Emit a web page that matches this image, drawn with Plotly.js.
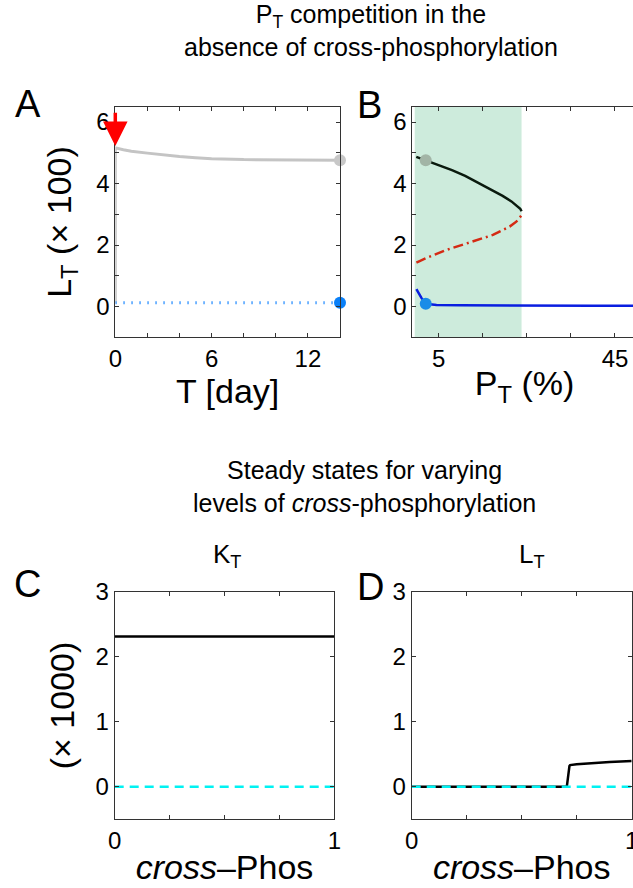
<!DOCTYPE html>
<html>
<head>
<meta charset="utf-8">
<script src="https://cdn.plot.ly/plotly-3.0.1.min.js"></script>
<style>
  html, body { margin: 0; padding: 0; background: #fff; overflow: hidden; }
  #chart { width: 700px; height: 888px; }
</style>
</head>
<body>
<div id="chart"></div>
<script>
// ---------- Panel A: time course (T in days, L_T x100) ----------
const tA_gray = [0, 0, 0.5, 1, 2, 3, 4, 5, 6, 8, 10, 12, 14];
const lA_gray = [0.1, 5.16, 5.1, 5.05, 4.99, 4.93, 4.88, 4.84, 4.81, 4.78, 4.77, 4.76, 4.76];
const tA_blue = [0, 14];
const lA_blue = [0.12, 0.12];
const tA_end = [14];
const lA_grayEnd = [4.76];
const lA_blueEnd = [0.12];
const arrowA = { t: 0, from: 6.35, to: 5.22 };

// ---------- Panel B: bifurcation vs P_T (%) ----------
const pB_high = [-0.1, 2.05, 5, 8, 11, 14.3, 17, 19.5, 21.5, 22.8, 23.5, 23.8];
const lB_high = [4.87, 4.76, 4.6, 4.44, 4.25, 4.0, 3.8, 3.6, 3.42, 3.28, 3.18, 3.1];
const pB_unstable = [-0.07, 2.05, 6.7, 12.8, 17.3, 21.1, 22.6, 23.75];
const lB_unstable = [1.43, 1.57, 1.84, 2.11, 2.33, 2.6, 2.76, 2.96];
const pB_low = [-0.07, 1.07, 2.05, 4.5, 10, 20, 30, 40, 50];
const lB_low = [0.57, 0.28, 0.09, 0.05, 0.04, 0.03, 0.03, 0.03, 0.03];
const pB_dot = [2.05];
const lB_grayDot = [4.76];
const lB_blueDot = [0.09];
const bistableB = [-0.45, 23.8];

// ---------- Panels C, D: steady states vs cross-phosphorylation ----------
const xC = [0, 1];
const kC_black = [2.31, 2.31];
const kC_cyan = [0, 0];
const xD = [0, 0.705, 0.717, 0.72, 0.75, 0.8, 0.85, 0.9, 0.95, 1.0];
const lD_black = [0.0, 0.0, 0.32, 0.333, 0.345, 0.36, 0.37, 0.38, 0.39, 0.395];
const xD_cyan = [0, 1];
const lD_cyan = [0, 0];

// tick labels (major) and unlabeled minor tick spacing
const tickA_x = [0, 6, 12];
const tickAB_y = [0, 2, 4, 6];
const tickB_x = [5, 45];
const tickCD_x = [0, 1];
const tickCD_y = [0, 1, 2, 3];

// ---------- layout helpers (pixels -> paper) ----------
const W = 700, H = 888;
const px = p => p / W;
const py = p => 1 - p / H;
const FONT = 'Liberation Sans, Arial, Helvetica, sans-serif';

function axis(domain, range, tv, minor, extra) {
  return Object.assign({
    domain: domain, range: range, tickmode: 'array', tickvals: tv,
    ticktext: tv.map(String),
    ticks: 'inside', ticklen: 4, tickwidth: 1, tickcolor: '#333',
    minor: Object.assign({ ticks: 'inside', ticklen: 4, tickwidth: 1, tickcolor: '#333', showgrid: false }, minor),
    showline: true, linecolor: '#333', linewidth: 1, mirror: 'ticks',
    showgrid: false, zeroline: false, fixedrange: true,
    tickfont: { family: FONT, size: 24, color: '#000' }
  }, extra || {});
}

const traces = [
  // A
  { x: tA_gray, y: lA_gray, xaxis: 'x', yaxis: 'y', mode: 'lines',
    line: { color: '#c4c4c4', width: 3 }, cliponaxis: false },
  { x: tA_blue, y: lA_blue, xaxis: 'x', yaxis: 'y', mode: 'lines',
    line: { color: '#4aa0ff', width: 3, dash: '1.5px,6.5px' } },
  { x: tA_end, y: lA_grayEnd, xaxis: 'x', yaxis: 'y', mode: 'markers',
    marker: { color: '#c8c8c8', size: 12 }, cliponaxis: false },
  { x: tA_end, y: lA_blueEnd, xaxis: 'x', yaxis: 'y', mode: 'markers',
    marker: { color: '#0a80f8', size: 12 }, cliponaxis: false },
  // B
  { x: pB_high, y: lB_high, xaxis: 'x2', yaxis: 'y2', mode: 'lines',
    line: { color: '#0a1a0e', width: 2.5 } },
  { x: pB_unstable, y: lB_unstable, xaxis: 'x2', yaxis: 'y2', mode: 'lines',
    line: { color: '#d42a14', width: 2.5, dash: '10px,4px,2px,4px' } },
  { x: pB_low, y: lB_low, xaxis: 'x2', yaxis: 'y2', mode: 'lines',
    line: { color: '#0a1ee0', width: 2.5 } },
  { x: pB_dot, y: lB_grayDot, xaxis: 'x2', yaxis: 'y2', mode: 'markers',
    marker: { color: '#a2b4a6', size: 12 } },
  { x: pB_dot, y: lB_blueDot, xaxis: 'x2', yaxis: 'y2', mode: 'markers',
    marker: { color: '#1a8ce8', size: 12 } },
  // C
  { x: xC, y: kC_black, xaxis: 'x3', yaxis: 'y3', mode: 'lines',
    line: { color: '#000', width: 2.5 } },
  { x: xC, y: kC_cyan, xaxis: 'x3', yaxis: 'y3', mode: 'lines',
    line: { color: '#00f2f2', width: 2.5, dash: '9px,6px' } },
  // D
  { x: xD, y: lD_black, xaxis: 'x4', yaxis: 'y4', mode: 'lines',
    line: { color: '#000', width: 2.5 } },
  { x: xD_cyan, y: lD_cyan, xaxis: 'x4', yaxis: 'y4', mode: 'lines',
    line: { color: '#00f2f2', width: 2.5, dash: '9px,6px' } }
];

const titleFont = { family: FONT, size: 34, color: '#000' };
const yTop = [py(337.3), py(106.7)];
const yBot = [py(819.3), py(591.7)];

const layout = {
  width: W, height: H, showlegend: false,
  margin: { l: 0, r: 0, t: 0, b: 0 },
  paper_bgcolor: '#fff', plot_bgcolor: 'rgba(0,0,0,0)',
  font: { family: FONT, color: '#000' },
  xaxis: axis([px(115.3), px(340)], [0, 14], tickA_x, { tick0: 0, dtick: 2 },
    { anchor: 'y', title: { text: 'T [day]', font: titleFont, standoff: 0 } }),
  yaxis: axis(yTop, [-1, 6.5], tickAB_y, { tick0: 0, dtick: 1 },
    { anchor: 'x', title: { text: 'L<sub>T</sub> (× 100)', font: titleFont, standoff: 14 } }),
  xaxis2: axis([px(412.3), px(637)], [-1, 50], tickB_x, { tick0: 5, dtick: 10 },
    { anchor: 'y2', title: { text: 'P<sub>T</sub> (%)', font: titleFont, standoff: 0 } }),
  yaxis2: axis(yTop, [-1, 6.5], tickAB_y, { tick0: 0, dtick: 1 }, { anchor: 'x2' }),
  xaxis3: axis([px(114.7), px(334.3)], [0, 1], tickCD_x, { tick0: 0, dtick: 0.25 },
    { anchor: 'y3', title: { text: '<i>cross</i>–Phos', font: titleFont, standoff: 2 } }),
  yaxis3: axis(yBot, [-0.5, 3], tickCD_y, { tick0: 0, dtick: 1 },
    { anchor: 'x3', title: { text: '(× 1000)', font: titleFont, standoff: 10 } }),
  xaxis4: axis([px(411.7), px(631.7)], [0, 1], tickCD_x, { tick0: 0, dtick: 0.25 },
    { anchor: 'y4', title: { text: '<i>cross</i>–Phos', font: titleFont, standoff: 2 } }),
  yaxis4: axis(yBot, [-0.5, 3], tickCD_y, { tick0: 0, dtick: 1 }, { anchor: 'x4' }),
  shapes: [
    { type: 'rect', xref: 'x2', yref: 'y2 domain', x0: bistableB[0], x1: bistableB[1],
      y0: 0, y1: 1, fillcolor: '#cdebdc', line: { width: 0 }, layer: 'below' }
  ],
  annotations: [
    // main titles
    { xref: 'paper', yref: 'paper', x: px(371), y: py(63), xanchor: 'center', yanchor: 'bottom',
      showarrow: false, align: 'center',
      text: 'P<sub>T</sub> competition in the<br>absence of cross-phosphorylation',
      font: { family: FONT, size: 25, color: '#000' } },
    { xref: 'paper', yref: 'paper', x: px(364), y: py(519), xanchor: 'center', yanchor: 'bottom',
      showarrow: false, align: 'center',
      text: 'Steady states for varying<br>levels of <i>cross</i>-phosphorylation',
      font: { family: FONT, size: 25, color: '#000' } },
    // sub-panel titles
    { xref: 'paper', yref: 'paper', x: px(227), y: py(574), xanchor: 'center', yanchor: 'bottom',
      showarrow: false, text: 'K<sub>T</sub>', font: { family: FONT, size: 26, color: '#000' } },
    { xref: 'paper', yref: 'paper', x: px(532), y: py(574), xanchor: 'center', yanchor: 'bottom',
      showarrow: false, text: 'L<sub>T</sub>', font: { family: FONT, size: 26, color: '#000' } },
    // panel letters
    { xref: 'paper', yref: 'paper', x: px(28), y: py(104), xanchor: 'center', yanchor: 'middle',
      showarrow: false, text: 'A', font: { family: FONT, size: 38, color: '#000' } },
    { xref: 'paper', yref: 'paper', x: px(369), y: py(105), xanchor: 'center', yanchor: 'middle',
      showarrow: false, text: 'B', font: { family: FONT, size: 38, color: '#000' } },
    { xref: 'paper', yref: 'paper', x: px(27), y: py(584), xanchor: 'center', yanchor: 'middle',
      showarrow: false, text: 'C', font: { family: FONT, size: 38, color: '#000' } },
    { xref: 'paper', yref: 'paper', x: px(370), y: py(587), xanchor: 'center', yanchor: 'middle',
      showarrow: false, text: 'D', font: { family: FONT, size: 38, color: '#000' } },
    // red arrow in A
    { xref: 'x', yref: 'y', axref: 'x', ayref: 'y',
      x: arrowA.t, y: arrowA.to, ax: arrowA.t, ay: arrowA.from,
      showarrow: true, text: '', arrowhead: 2, arrowsize: 1.4, arrowwidth: 3.5,
      arrowcolor: '#ff0000', standoff: 0, startstandoff: 0 }
  ]
};

Plotly.newPlot('chart', traces, layout, { staticPlot: true, displayModeBar: false });
</script>
</body>
</html>
